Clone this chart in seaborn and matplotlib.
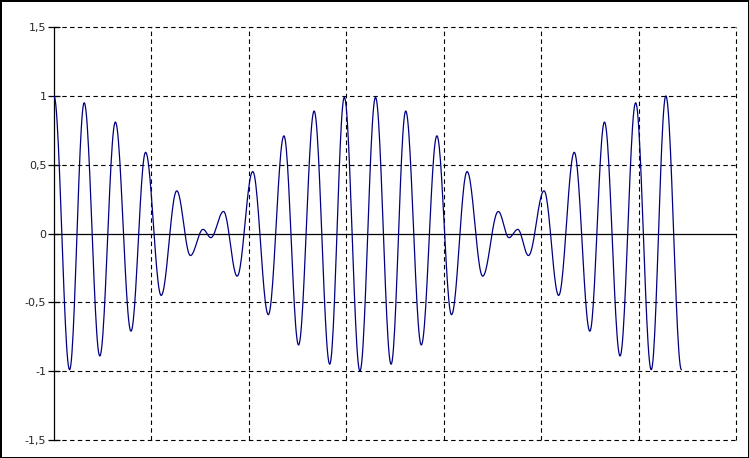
import matplotlib
matplotlib.use("Agg")
import matplotlib.pyplot as plt
import numpy as np
import pandas as pd
import seaborn as sns

# local extrema of the curve (x in grid units, y in value)
peak_x = [0.00, 0.16, 0.31, 0.47, 0.63, 0.79, 0.94, 1.10, 1.26, 1.40,
          1.53, 1.61, 1.74, 1.88, 2.04, 2.20, 2.36, 2.51, 2.67, 2.83,
          2.98, 3.14, 3.30, 3.46, 3.61, 3.77, 3.93, 4.08, 4.24, 4.40,
          4.56, 4.67, 4.76, 4.87, 5.03, 5.18, 5.34, 5.50, 5.65, 5.81,
          5.97, 6.13, 6.28, 6.44]
peak_y = [1.00, -0.99, 0.95, -0.89, 0.81, -0.71, 0.59, -0.45, 0.31, -0.16,
          0.03, -0.03, 0.16, -0.31, 0.45, -0.59, 0.71, -0.81, 0.89, -0.95,
          0.99, -1.00, 0.99, -0.95, 0.89, -0.81, 0.71, -0.59, 0.45, -0.31,
          0.16, -0.03, 0.03, -0.16, 0.31, -0.45, 0.59, -0.71, 0.81, -0.89,
          0.95, -0.99, 1.00, -0.99]

y_ticks = [-1.5, -1.0, -0.5, 0.0, 0.5, 1.0, 1.5]
y_tick_labels = ["-1,5", "-1", "-0,5", "0", "0,5", "1", "1,5"]
x_grid = [1, 2, 3, 4, 5, 6, 7]

# smooth half-cosine segments between consecutive extrema
xs, ys = [], []
for i in range(len(peak_x) - 1):
    t = np.linspace(0, 1, 25, endpoint=(i == len(peak_x) - 2))
    s = (1 - np.cos(np.pi * t)) / 2
    xs.extend(peak_x[i] + (peak_x[i + 1] - peak_x[i]) * t)
    ys.extend(peak_y[i] + (peak_y[i + 1] - peak_y[i]) * s)
curve = pd.DataFrame({"x": xs, "y": ys})

sns.set_theme(style="white")
plt.rcParams["font.family"] = ["DejaVu Sans"]

fig = plt.figure(figsize=(7.49, 4.58), dpi=100, facecolor="white", edgecolor="black")
fig.patch.set_linewidth(2)
ax = fig.add_axes([54 / 749, 1 - 440 / 458, (736 - 54) / 749, (440 - 27) / 458])

dash = (0, (4, 3))
for yv in y_ticks:
    if yv != 0:
        ax.axhline(yv, color="black", linestyle=dash, linewidth=0.8, zorder=1, clip_on=False)
for xv in x_grid:
    ax.axvline(xv, color="black", linestyle=dash, linewidth=0.8, zorder=1, clip_on=False)
ax.axhline(0, color="black", linewidth=0.9, zorder=2)

sns.lineplot(data=curve, x="x", y="y", color="#000080", linewidth=0.9,
             sort=False, ax=ax, zorder=3)

ax.set_xlim(0, 7)
ax.set_ylim(-1.5, 1.5)
ax.set_xticks([])
ax.set_yticks(y_ticks)
ax.set_yticklabels(y_tick_labels, fontsize=8)
ax.tick_params(axis="y", left=True, direction="inout", length=9, width=0.9,
               pad=1, color="black")
ax.set_xlabel("")
ax.set_ylabel("")
for side in ["top", "right", "bottom"]:
    ax.spines[side].set_visible(False)
ax.spines["left"].set_color("black")
ax.spines["left"].set_linewidth(0.9)
ax.patch.set_alpha(0)

fig.savefig("out.png", dpi=100, facecolor="white", edgecolor="black")
